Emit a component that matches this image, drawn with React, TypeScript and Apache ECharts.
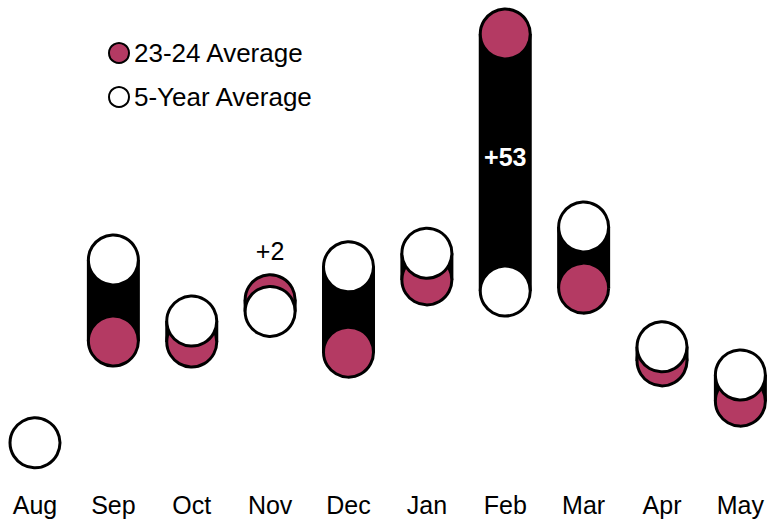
import React, { useEffect, useRef } from "react";
import * as echarts from "echarts";

const months = ["Aug", "Sep", "Oct", "Nov", "Dec", "Jan", "Feb", "Mar", "Apr", "May"];
const avg2324: (number | null)[] = [null, 26.6, 26.4, 35.1, 24.3, 39.2, 89.9, 37.5, 22.5, 14.2];
const avg5yr: number[] = [5.6, 43.3, 30.7, 32.7, 41.9, 44.7, 36.9, 50.1, 25.4, 19.6];
const diffLabels = ["", "", "", "+2", "", "", "+53", "", "", ""];

const CRIMSON = "#B43A63";
const FONT = "'Liberation Sans', Arial, Helvetica, sans-serif";

export default function App() {
  const ref = useRef<HTMLDivElement>(null);
  useEffect(() => {
    if (!ref.current) return;
    const chart = echarts.init(ref.current, undefined, { renderer: "svg" });
    const barData: number[][] = [];
    months.forEach((_, i) => {
      const a = avg2324[i];
      if (a !== null && a !== undefined) barData.push([i, avg5yr[i], a]);
    });
    const option: any = {
      animation: false,
      backgroundColor: "#fff",
      grid: { left: 35, right: 25, top: 33.5, bottom: 55, containLabel: false },
      legend: {
        orient: "vertical",
        left: 103,
        top: 33,
        itemWidth: 20,
        itemHeight: 20,
        itemGap: 14,
        icon: "circle",
        data: ["23-24 Average", "5-Year Average"],
        textStyle: { fontFamily: FONT, fontSize: 26, color: "#000", lineHeight: 30 },
      },
      xAxis: {
        type: "category",
        data: months,
        boundaryGap: false,
        axisLine: { show: false },
        axisTick: { show: false },
        splitLine: { show: false },
        axisLabel: { fontFamily: FONT, fontSize: 25, color: "#000", margin: 22 },
      },
      yAxis: {
        type: "value",
        min: 0,
        max: 90,
        show: false,
        splitLine: { show: false },
      },
      series: [
        {
          type: "custom",
          name: "diff",
          z: 1,
          clip: false,
          data: barData,
          encode: { x: 0, y: [1, 2] },
          renderItem: (params: any, api: any) => {
            const i = api.value(0);
            const a = api.value(1);
            const b = api.value(2);
            const p1 = api.coord([i, a]);
            const p2 = api.coord([i, b]);
            const w = 53;
            const top = Math.min(p1[1], p2[1]);
            const h = Math.abs(p1[1] - p2[1]);
            const children: any[] = [
              {
                type: "rect",
                shape: { x: p1[0] - w / 2, y: top, width: w, height: h },
                style: { fill: "#000" },
              },
            ];
            const lbl = diffLabels[i];
            if (lbl) {
              if (h > 100) {
                children.push({
                  type: "text",
                  z2: 100,
                  style: {
                    x: p1[0],
                    y: top + h / 2 - 6,
                    text: lbl,
                    fill: "#fff",
                    font: `bold 25px ${FONT}`,
                    align: "center",
                    verticalAlign: "middle",
                  },
                });
              } else {
                children.push({
                  type: "text",
                  style: {
                    x: p1[0],
                    y: top - 49,
                    text: lbl,
                    fill: "#000",
                    font: `25px ${FONT}`,
                    align: "center",
                    verticalAlign: "middle",
                  },
                });
              }
            }
            return { type: "group", children };
          },
        },
        {
          type: "scatter",
          name: "23-24 Average",
          z: 2,
          clip: false,
          symbol: "circle",
          symbolSize: 50,
          data: avg2324,
          itemStyle: { color: CRIMSON, borderColor: "#000", borderWidth: 3, opacity: 1 },
          emphasis: { disabled: true },
        },
        {
          type: "scatter",
          name: "5-Year Average",
          z: 3,
          clip: false,
          symbol: "circle",
          symbolSize: 50,
          data: avg5yr,
          itemStyle: { color: "#fff", borderColor: "#000", borderWidth: 3, opacity: 1 },
          emphasis: { disabled: true },
        },
      ],
    };
    chart.setOption(option);
    return () => chart.dispose();
  }, []);
  return (
    <div
      ref={ref}
      style={{ position: "fixed", left: 0, top: 0, width: 767, height: 525 }}
    />
  );
}
